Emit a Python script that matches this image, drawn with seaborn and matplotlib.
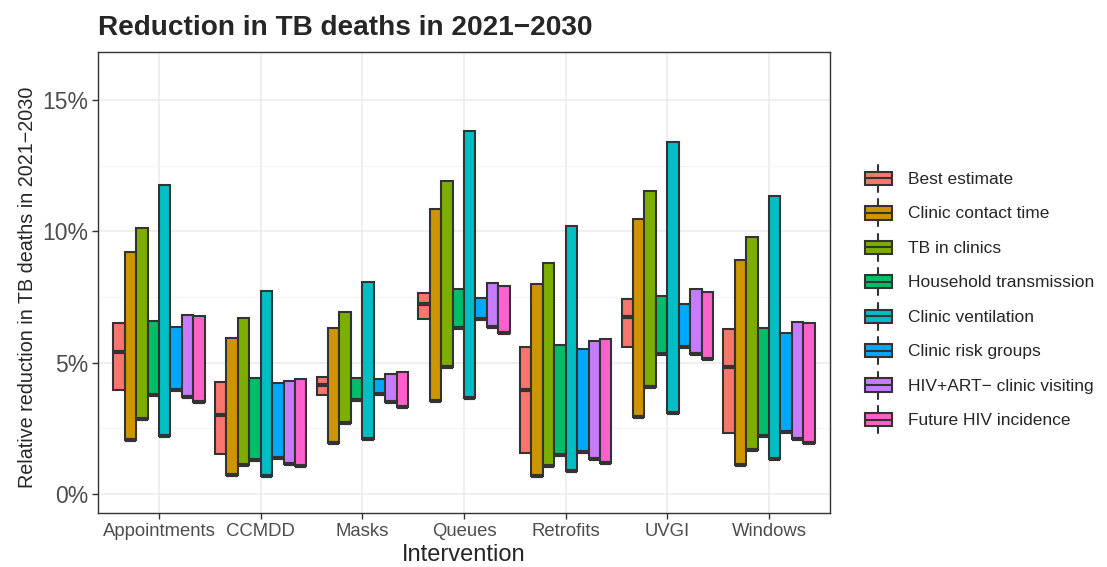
import numpy as np
import pandas as pd
import matplotlib
matplotlib.use('Agg')
import matplotlib.pyplot as plt
import seaborn as sns
from matplotlib.patches import Patch, Rectangle
from matplotlib.lines import Line2D
from matplotlib.legend_handler import HandlerBase
from matplotlib.ticker import FuncFormatter, MultipleLocator

# values in percent
interventions = ['Appointments', 'CCMDD', 'Masks', 'Queues', 'Retrofits', 'UVGI', 'Windows']
groups = ['Best estimate', 'Clinic contact time', 'TB in clinics', 'Household transmission',
          'Clinic ventilation', 'Clinic risk groups', 'HIV+ART\u2212 clinic visiting',
          'Future HIV incidence']
colors = ['#F8766D', '#CD9600', '#7CAE00', '#00BE67', '#00BFC4', '#00A9FF', '#C77CFF', '#FF61CC']

best_lo = [3.96, 1.52, 3.77, 6.66, 1.55, 5.61, 2.33]
best_mid = [5.42, 3.01, 4.17, 7.23, 3.96, 6.73, 4.82]
best_hi = [6.50, 4.28, 4.44, 7.64, 5.61, 7.41, 6.28]

contact_lo = [2.06, 0.72, 1.93, 3.55, 0.69, 2.94, 1.10]
contact_hi = [9.22, 5.93, 6.33, 10.84, 7.98, 10.49, 8.91]
tbclinic_lo = [2.84, 1.10, 2.72, 4.85, 1.07, 4.06, 1.67]
tbclinic_hi = [10.14, 6.71, 6.92, 11.92, 8.78, 11.53, 9.80]
household_lo = [3.77, 1.29, 3.58, 6.31, 1.48, 5.35, 2.21]
household_hi = [6.60, 4.43, 4.43, 7.79, 5.67, 7.55, 6.34]
vent_lo = [2.21, 0.69, 2.08, 3.64, 0.89, 3.10, 1.33]
vent_hi = [11.76, 7.73, 8.06, 13.82, 10.20, 13.39, 11.34]
risk_lo = [3.98, 1.36, 3.81, 6.65, 1.61, 5.61, 2.37]
risk_hi = [6.37, 4.21, 4.37, 7.45, 5.51, 7.22, 6.14]
hivart_lo = [3.70, 1.14, 3.51, 6.37, 1.33, 5.35, 2.09]
hivart_hi = [6.80, 4.31, 4.56, 8.04, 5.84, 7.79, 6.54]
hivinc_lo = [3.51, 1.07, 3.32, 6.14, 1.17, 5.13, 1.93]
hivinc_hi = [6.78, 4.40, 4.66, 7.93, 5.89, 7.70, 6.52]

# sensitivity ranges: the middle line sits on the lower bound
ranges = {
    groups[0]: (best_lo, best_mid, best_hi),
    groups[1]: (contact_lo, contact_lo, contact_hi),
    groups[2]: (tbclinic_lo, tbclinic_lo, tbclinic_hi),
    groups[3]: (household_lo, household_lo, household_hi),
    groups[4]: (vent_lo, vent_lo, vent_hi),
    groups[5]: (risk_lo, risk_lo, risk_hi),
    groups[6]: (hivart_lo, hivart_lo, hivart_hi),
    groups[7]: (hivinc_lo, hivinc_lo, hivinc_hi),
}

rows = []
for g, (lo, mid, hi) in ranges.items():
    for i, iv in enumerate(interventions):
        # five points so that q1 = lo, median = mid, q3 = hi
        for v in (lo[i], lo[i], mid[i], hi[i], hi[i]):
            rows.append({'Intervention': iv, 'Group': g, 'value': v})
df = pd.DataFrame(rows)


class BoxKey(HandlerBase):
    def create_artists(self, legend, orig_handle, xdescent, ydescent, width, height, fontsize, trans):
        x0, y0 = -xdescent, -ydescent
        bh = height * 0.5
        by = y0 + (height - bh) / 2
        xc = x0 + width / 2
        ec = '#333333'
        box = Rectangle((x0, by), width, bh, facecolor=orig_handle.get_facecolor(),
                        edgecolor=ec, linewidth=1.5, transform=trans)
        mid = Line2D([x0, x0 + width], [y0 + height / 2] * 2, color=ec, lw=1.5, transform=trans)
        w1 = Line2D([xc, xc], [y0, by], color=ec, lw=1.5, transform=trans)
        w2 = Line2D([xc, xc], [by + bh, y0 + height], color=ec, lw=1.5, transform=trans)
        return [w1, w2, box, mid]


sns.set_style('white')
plt.rcParams['font.family'] = ['Liberation Sans', 'DejaVu Sans']

fig = plt.figure(figsize=(11.07, 5.67), dpi=100)
ax = fig.add_axes([98 / 1107, 1 - 513 / 567, 732 / 1107, 461 / 567])

sns.boxplot(data=df, x='Intervention', y='value', hue='Group', order=interventions,
            hue_order=groups, palette=colors, saturation=1, width=0.9, gap=0,
            whis=0, showcaps=False, showfliers=False, linewidth=1.5, linecolor='#333333',
            medianprops={'linewidth': 3, 'color': '#333333'}, legend=False, ax=ax, zorder=3)

ax.set_xlim(-0.6, 6.6)
ax.set_ylim(-0.72, 16.83)
ax.yaxis.set_major_locator(MultipleLocator(5))
ax.yaxis.set_minor_locator(MultipleLocator(2.5))
ax.yaxis.set_major_formatter(FuncFormatter(lambda v, p: f'{v:.0f}%'))
ax.grid(True, which='major', color='#EBEBEB', linewidth=1.1, zorder=0)
ax.grid(True, which='minor', axis='y', color='#F2F2F2', linewidth=0.6, zorder=0)
ax.set_axisbelow(True)
for s in ax.spines.values():
    s.set_visible(True)
    s.set_color('#333333')
    s.set_linewidth(1.0)

ax.tick_params(axis='both', which='major', direction='out', length=4, width=1, color='#333333',
               left=True, bottom=True)
ax.tick_params(axis='y', which='minor', left=False)
ax.tick_params(axis='y', labelsize=16.5, labelcolor='#4D4D4D', pad=3)
ax.tick_params(axis='x', labelsize=13.3, labelcolor='#4D4D4D', pad=3)

ax.set_xlabel('Intervention', fontsize=17, labelpad=3)
ax.set_ylabel('Relative reduction in TB deaths in 2021\u22122030', fontsize=14.2)
ax.yaxis.set_label_coords(-0.083, 0.49)

fig.text(98 / 1107, 1 - 28 / 567, 'Reduction in TB deaths in 2021\u22122030',
         fontsize=20.2, fontweight='bold', va='center', ha='left')

handles = [Patch(facecolor=c, edgecolor='#333333', label=g) for g, c in zip(groups, colors)]
fig.legend(handles=handles, handler_map={Patch: BoxKey()}, loc='center left',
           bbox_to_anchor=(865 / 1107, 1 - 299 / 567), frameon=False, fontsize=12.5,
           handlelength=1.55, handleheight=2.0, labelspacing=0.44, handletextpad=0.95,
           borderpad=0, borderaxespad=0)

fig.savefig('out.png', dpi=100)
